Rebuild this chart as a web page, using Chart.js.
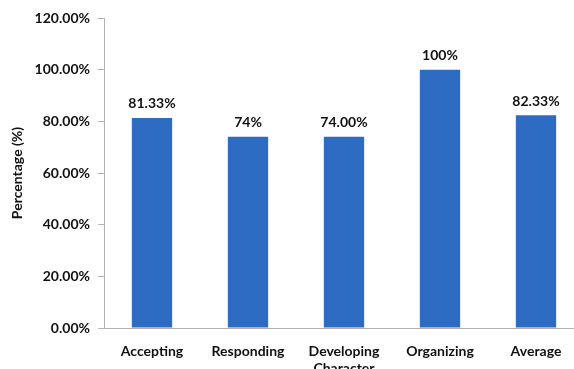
<!DOCTYPE html>
<html>
<head>
<meta charset="utf-8">
<script src="https://cdn.jsdelivr.net/npm/chart.js@4/dist/chart.umd.min.js"></script>
<style>
  html, body { margin: 0; padding: 0; background: #fff; overflow: hidden; }
  #wrap { width: 590px; height: 369px; }
</style>
</head>
<body>
<div id="wrap"><canvas id="bars" width="590" height="369"></canvas></div>
<script>
const categories = ["Accepting", "Responding", ["Developing", "Character"], "Organizing", "Average"];
const values = [81.33, 74, 74.00, 100, 82.33];
const valueLabels = ["81.33%", "74%", "74.00%", "100%", "82.33%"];
const yTicks = [0, 20, 40, 60, 80, 100, 120];

const FONT = "Lato, 'Open Sans', sans-serif";
const INK = "#111111";

// value text above each bar
const barLabels = {
  id: "barLabels",
  afterDatasetsDraw(chart) {
    const ctx = chart.ctx;
    const meta = chart.getDatasetMeta(0);
    ctx.save();
    ctx.font = "bold 14px " + FONT;
    ctx.fillStyle = INK;
    ctx.textAlign = "center";
    ctx.textBaseline = "bottom";
    meta.data.forEach((bar, i) => {
      ctx.fillText(valueLabels[i], bar.x, bar.y - 7);
    });
    ctx.restore();
  }
};

new Chart(document.getElementById("bars"), {
  type: "bar",
  data: {
    labels: categories,
    datasets: [{
      data: values,
      backgroundColor: "#2e6cc4",
      categoryPercentage: 1,
      barPercentage: 0.42
    }]
  },
  options: {
    responsive: false,
    animation: false,
    layout: { padding: { top: 18, right: 6, left: 9, bottom: 0 } },
    plugins: { legend: { display: false }, tooltip: { enabled: false } },
    scales: {
      x: {
        grid: { display: false },
        border: { display: true, color: "#b3b3b3" },
        ticks: { color: INK, font: { family: FONT, size: 14, weight: "bold" }, padding: 7, maxRotation: 0, autoSkip: false },
        afterFit(scale) { scale.height = 41; }
      },
      y: {
        min: 0,
        max: 120,
        afterBuildTicks(scale) { scale.ticks = yTicks.map(v => ({ value: v })); },
        grid: { drawOnChartArea: false, drawTicks: true, tickLength: 6, color: "#b3b3b3" },
        border: { display: true, color: "#b3b3b3" },
        ticks: {
          color: INK,
          padding: 8,
          font: { family: FONT, size: 14, weight: "bold" },
          callback: v => v.toFixed(2) + "%"
        },
        title: {
          display: true,
          text: "Percentage (%)",
          color: INK,
          font: { family: FONT, size: 14, weight: "bold" },
          padding: { top: 0, bottom: 4 }
        },
        afterFit(scale) { scale.width = 95; }
      }
    }
  },
  plugins: [barLabels]
});
</script>
</body>
</html>
